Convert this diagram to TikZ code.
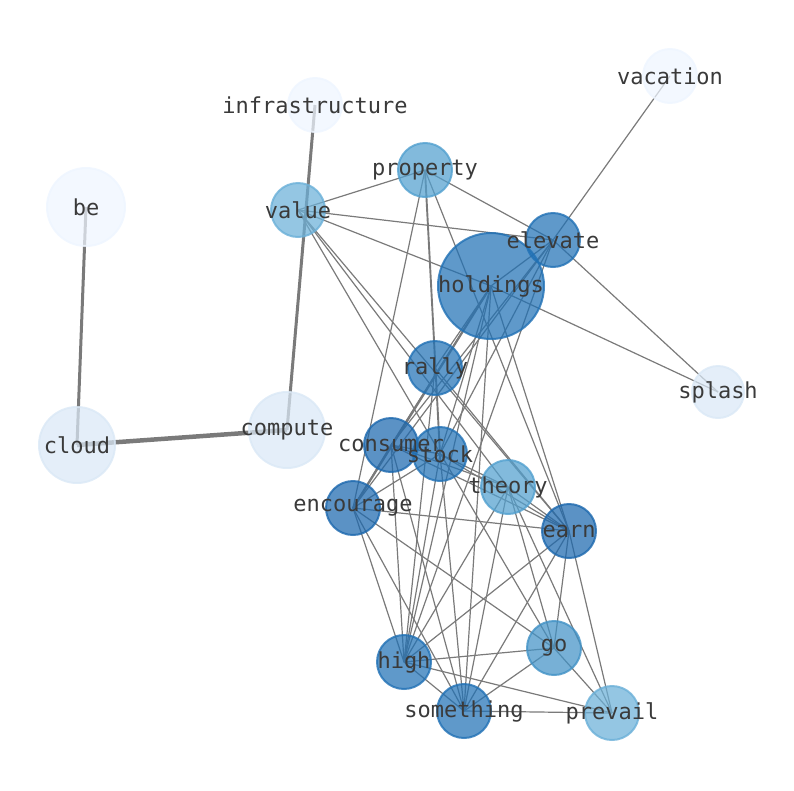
\documentclass[tikz,border=0pt]{standalone}
\usepackage{fontspec}
\newfontfamily\wordfont{DejaVu Sans Mono}
\usetikzlibrary{backgrounds}
\pgfdeclarelayer{front}
\pgfsetlayers{background,main,front}
\definecolor{wordblue}{RGB}{33,113,181}
\definecolor{worddeep}{RGB}{28,104,174}
\definecolor{wordmid}{RGB}{66,146,198}
\definecolor{wordsoft}{RGB}{82,160,207}
\definecolor{wordlight}{RGB}{107,176,216}
\definecolor{wordpale}{RGB}{218,232,246}
\definecolor{wordwhite}{RGB}{238,245,255}
\definecolor{linkgray}{RGB}{122,122,122}
\definecolor{labelgray}{RGB}{58,58,58}

\begin{document}
\begin{tikzpicture}[
    x=1pt, y=-1pt,
    word/.style={
        circle,
        inner sep=0pt,
        minimum size=54pt,
        line width=2pt,
        fill opacity=0.72,
        draw opacity=0.8,
        fill=#1,
        draw=#1
    },
    big/.style={minimum size=#1},
    wordtext/.style={
        font=\wordfont\fontsize{22}{26}\selectfont,
        text=labelgray,
        inner sep=0pt
    },
    link/.style={draw=linkgray, line width=1.2pt},
    heavylink/.style={draw=linkgray, line width=#1}
]
    \useasboundingbox (0,0) rectangle (794,790);

    % words
    \node[word=wordwhite] (vacation) at (670,76) {};
    \node[word=wordwhite] (infrastructure) at (315,105) {};
    \node[word=wordwhite, big=78pt] (be) at (86,207) {};
    \node[word=wordsoft] (property) at (425,170) {};
    \node[word=wordlight] (value) at (298,210) {};
    \node[word=wordblue] (elevate) at (553,240) {};
    \node[word=wordblue, big=106pt] (holdings) at (491,286) {};
    \node[word=wordblue] (rally) at (435,368) {};
    \node[word=wordpale, big=52pt] (splash) at (718,392) {};
    \node[word=wordpale, big=76pt] (cloud) at (77,445) {};
    \node[word=wordpale, big=76pt] (compute) at (287,430) {};
    \node[word=worddeep] (consumer) at (391,445) {};
    \node[word=wordblue] (stock) at (440,454) {};
    \node[word=wordsoft] (theory) at (508,487) {};
    \node[word=worddeep] (encourage) at (353,508) {};
    \node[word=worddeep] (earn) at (569,531) {};
    \node[word=wordmid] (go) at (554,648) {};
    \node[word=wordblue] (high) at (404,662) {};
    \node[word=wordblue] (something) at (464,711) {};
    \node[word=wordlight] (prevail) at (612,713) {};

    % texts over everything
    \begin{pgfonlayer}{front}
        \foreach \w in {vacation, infrastructure, be, property, value, elevate, holdings, rally, splash, cloud,
            compute, consumer, stock, theory, encourage, earn, go, high, something, prevail}
            \node[wordtext] (\w-text) at (\w.center) {\w};
    \end{pgfonlayer}

    % links, under the words
    \begin{scope}[on background layer]
        \foreach \a/\b in {value/property, value/elevate, value/holdings, value/theory, value/earn, value/go,
            property/elevate, property/encourage, property/earn,
            elevate/vacation, elevate/splash, elevate/holdings, elevate/encourage, elevate/consumer, elevate/stock, elevate/high,
            holdings/splash, holdings/consumer, holdings/stock, holdings/rally, holdings/high, holdings/something, holdings/earn,
            rally/earn, rally/high,
            consumer/stock, consumer/encourage, consumer/theory, consumer/earn, consumer/high, consumer/something,
            stock/encourage, stock/theory, stock/earn, stock/high, stock/something,
            encourage/earn, encourage/go, encourage/high, encourage/something,
            theory/earn, theory/high, theory/something, theory/go, theory/prevail,
            earn/high, earn/something, earn/go, earn/prevail,
            high/go, high/something, high/prevail,
            something/go, something/prevail, go/prevail}
            \draw[link] (\a.center) -- (\b.center);
        \draw[heavylink=1.9pt] (property.center) -- (stock.center);
        \draw[heavylink=2.2pt] (holdings.center) -- (encourage.center);
        \draw[heavylink=3pt] (be.center) -- (cloud.center);
        \draw[heavylink=3pt] (infrastructure.center) -- (compute.center);
        \draw[heavylink=4.5pt] (cloud.center) -- (compute.center);
    \end{scope}
\end{tikzpicture}
\end{document}
